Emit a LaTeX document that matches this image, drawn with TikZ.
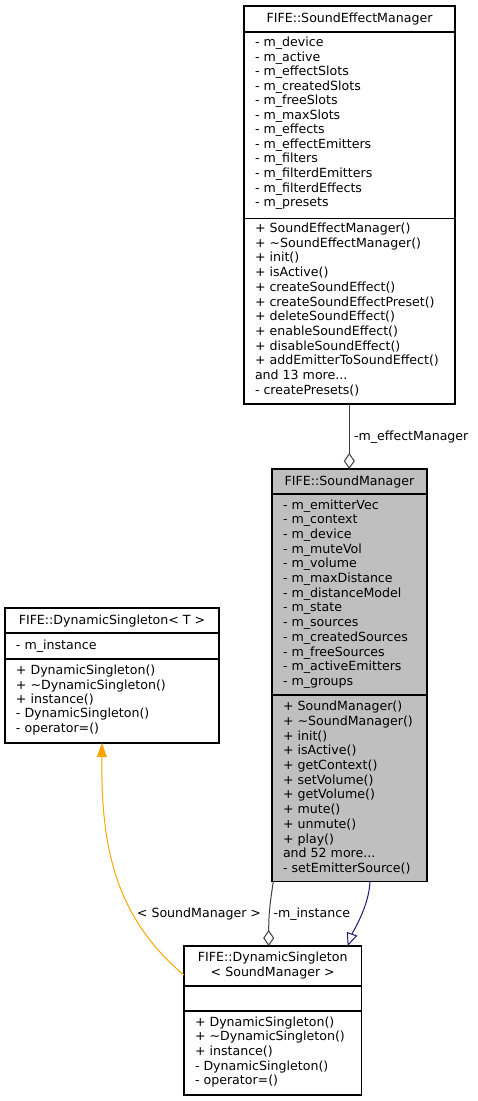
\documentclass[tikz,border=0pt]{standalone}
\usepackage{fontspec}
\setmainfont{DejaVu Sans}
\usetikzlibrary{arrows.meta,calc}
\definecolor{edgegrey}{HTML}{404040}
\definecolor{inhblue}{HTML}{191970}
\definecolor{tplorange}{HTML}{FFA500}
\definecolor{hilite}{HTML}{BFBFBF}
\tikzset{
  classbox/.style={draw=black,line width=1.3pt,inner sep=0pt,outer sep=0pt,anchor=north west,fill=white},
  txt/.style={inner sep=0pt,outer sep=0pt,font=\fontsize{12.6}{14.65}\selectfont},
  sepline/.style={draw=black,line width=1.3pt},
  aggr/.style={draw=edgegrey,line width=1pt,-{Diamond[open,length=16pt,width=11pt,line width=1pt]}},
  inher/.style={draw=inhblue,line width=1pt,-{Triangle[open,length=13pt,width=11pt,line width=1pt]}},
  tmpl/.style={draw=tplorange,line width=1pt,-{Triangle[length=14pt,width=10pt]}}
}
\newcommand{\tdots}{...}
\newcommand{\textlines}[5]{%
  \foreach \t [count=\i from 0] in {#4} {\node[txt,anchor=base west] (#5-\i) at (#1,{#2+\i*#3}) {\t};}}
\begin{document}
\begin{tikzpicture}[x=1pt,y=-1pt]
\useasboundingbox (0,0) rectangle (477,1101);
% ---------- SoundEffectManager
\node[classbox,minimum width=211pt,minimum height=398pt] (sem) at (244,6) {};
\draw[sepline] (sem.west |- 0,32) -- (sem.east |- 0,32);
\draw[sepline] (sem.west |- 0,218.7) -- (sem.east |- 0,218.7);
\node[txt,anchor=base] (semtitle) at (349.5,22.5) {FIFE::SoundEffectManager};
\textlines{255}{46.5}{14.55}{- m\_device,- m\_active,- m\_effectSlots,- m\_createdSlots,- m\_freeSlots,- m\_maxSlots,- m\_effects,- m\_effectEmitters,- m\_filters,- m\_filterdEmitters,- m\_filterdEffects,- m\_presets}{sema}
\textlines{255}{232.5}{14.7}{+ SoundEffectManager(),+ \textasciitilde SoundEffectManager(),+ init(),+ isActive(),+ createSoundEffect(),+ createSoundEffectPreset(),+ deleteSoundEffect(),+ enableSoundEffect(),+ disableSoundEffect(),+ addEmitterToSoundEffect(),and 13 more\tdots,- createPresets()}{semm}
% ---------- SoundManager
\node[classbox,fill=hilite,minimum width=155pt,minimum height=412.5pt] (sm) at (272,469) {};
\draw[sepline] (sm.west |- 0,494) -- (sm.east |- 0,494);
\draw[sepline] (sm.west |- 0,695) -- (sm.east |- 0,695);
\node[txt,anchor=base] (smtitle) at (349.5,485) {FIFE::SoundManager};
\textlines{283}{509}{14.7}{- m\_emitterVec,- m\_context,- m\_device,- m\_muteVol,- m\_volume,- m\_maxDistance,- m\_distanceModel,- m\_state,- m\_sources,- m\_createdSources,- m\_freeSources,- m\_activeEmitters,- m\_groups}{sma}
\textlines{283}{710.7}{14.7}{+ SoundManager(),+ \textasciitilde SoundManager(),+ init(),+ isActive(),+ getContext(),+ setVolume(),+ getVolume(),+ mute(),+ unmute(),+ play(),and 52 more\tdots,- setEmitterSource()}{smm}
% ---------- DynamicSingleton< T >
\node[classbox,minimum width=214pt,minimum height=135pt] (dst) at (5,608) {};
\draw[sepline] (dst.west |- 0,633) -- (dst.east |- 0,633);
\draw[sepline] (dst.west |- 0,659) -- (dst.east |- 0,659);
\node[txt,anchor=base] (dsttitle) at (112,624) {FIFE::DynamicSingleton< T >};
\textlines{16}{649}{14.5}{- m\_instance}{dsta}
\textlines{16}{674.7}{14.4}{+ DynamicSingleton(),+ \textasciitilde DynamicSingleton(),+ instance(),- DynamicSingleton(),- operator=()}{dstm}
% ---------- DynamicSingleton< SoundManager >
\node[classbox,minimum width=177.5pt,minimum height=149pt] (dss) at (184,946) {};
\draw[sepline] (dss.west |- 0,986) -- (dss.east |- 0,986);
\draw[sepline] (dss.west |- 0,1011) -- (dss.east |- 0,1011);
\node[txt,anchor=base] (dsstitle1) at (272.75,961) {FIFE::DynamicSingleton};
\node[txt,anchor=base] (dsstitle2) at (272.75,976.5) {< SoundManager >};
\textlines{195}{1026.3}{14.6}{+ DynamicSingleton(),+ \textasciitilde DynamicSingleton(),+ instance(),- DynamicSingleton(),- operator=()}{dssm}
% ---------- connectors
\draw[aggr] ($(sem.south west)+(105.3,0)$) -- ($(sm.north west)+(77.3,0)$);
\node[txt,anchor=base west] (lblEffect) at (354,440) {-m\_effectManager};
\draw[aggr] ($(sm.south west)+(1.3,0)$) .. controls +(-3,20) and +(0,-34) .. ($(dss.north west)+(84.7,0)$);
\node[txt,anchor=base west] (lblInst) at (273.5,917) {-m\_instance};
\draw[inher] ($(sm.south west)+(98,0)$) .. controls +(-1,25) and +(5,-14) .. ($(dss.north west)+(163.7,0)$);
\draw[tmpl] ($(dss.north west)+(0,29)$) .. controls +(-72,-60) and +(-1,97) .. ($(dst.south west)+(97,0)$);
\node[txt,anchor=base east] (lblTpl) at (261,917) {< SoundManager >};
\end{tikzpicture}
\end{document}
